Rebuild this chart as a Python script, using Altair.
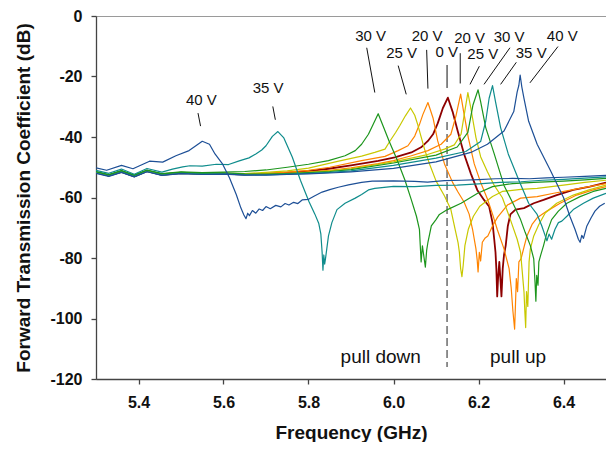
import altair as alt
import pandas as pd

X_TICKS = [5.4, 5.6, 5.8, 6.0, 6.2, 6.4]
Y_TICKS = [0, -20, -40, -60, -80, -100, -120]

C0 = "#8e0000"
C20 = "#ff8400"
C25 = "#c8c800"
C30 = "#1c951c"
C35 = "#0f8c8c"
C40 = "#1d4f96"

# (frequency GHz, S21 dB)
D40_DOWN = [(5.30,-50.2),(5.325,-51.0),(5.36,-49.4),(5.387,-50.5),(5.426,-48.0),(5.457,-48.3),(5.488,-46.2),(5.519,-44.5),(5.535,-42.9),(5.550,-41.4),
            (5.567,-42.4),(5.580,-45.6),(5.598,-49.0),(5.614,-53.5),(5.630,-59.0),(5.641,-63.5),(5.648,-65.8),(5.653,-67.0),(5.657,-65.2),(5.661,-66.0),
            (5.668,-64.3),(5.676,-65.2),(5.684,-63.8),(5.692,-64.3),(5.700,-63.0),(5.710,-63.7),(5.723,-62.6),(5.735,-63.1),(5.745,-62.0),(5.754,-62.5),
            (5.765,-61.6),(5.775,-62.0),(5.785,-60.8),(5.800,-60.6),(5.815,-59.4),(5.832,-58.2),(5.850,-57.4),(5.870,-56.6),(5.894,-55.8),(5.925,-55.0),
            (5.950,-54.6),(6.000,-54.5),(6.050,-54.7),(6.080,-54.9),(6.120,-54.4),(6.160,-54.3),(6.200,-54.1),(6.240,-53.8),(6.280,-53.7),(6.320,-53.8),
            (6.360,-53.5),(6.400,-53.3),(6.450,-53.0),(6.500,-52.7)]

D35_DOWN = [(5.30,-51.0),(5.33,-52.0),(5.36,-50.6),(5.39,-52.3),(5.42,-50.4),(5.455,-51.6),(5.48,-50.6),(5.504,-49.9),(5.521,-49.5),(5.55,-49.6),
            (5.583,-49.0),(5.612,-49.1),(5.637,-47.9),(5.66,-46.9),(5.676,-45.6),(5.69,-44.3),(5.700,-42.9),(5.715,-39.8),(5.728,-38.2),(5.742,-40.3),
            (5.762,-46.7),(5.781,-54.3),(5.801,-61.3),(5.815,-65.5),(5.824,-68.5),(5.829,-72.0),(5.832,-78.0),(5.834,-84.0),(5.836,-79.0),(5.838,-82.0),
            (5.840,-80.2),(5.843,-77.0),(5.847,-72.7),(5.855,-68.3),(5.867,-64.0),(5.886,-61.9),(5.91,-60.2),(5.925,-59.0),(5.941,-57.5),(5.956,-57.0),
            (6.00,-56.3),(6.05,-56.4),(6.10,-56.0),(6.15,-55.9),(6.20,-55.5),(6.25,-55.0),(6.30,-54.8),(6.35,-54.3),(6.40,-54.0),(6.45,-53.6),(6.50,-53.2)]

D30_DOWN = [(5.30,-51.4),(5.33,-52.4),(5.36,-51.1),(5.39,-52.6),(5.42,-50.9),(5.455,-52.1),(5.50,-51.5),(5.55,-51.8),(5.60,-51.6),(5.65,-51.4),
            (5.70,-50.9),(5.75,-50.0),(5.80,-49.0),(5.847,-47.8),(5.886,-46.2),(5.91,-44.5),(5.925,-42.4),(5.941,-39.1),(5.952,-35.9),(5.964,-32.3),
            (5.976,-36.5),(5.99,-41.5),(6.007,-47.0),(6.027,-54.3),(6.042,-60.8),(6.054,-66.2),(6.061,-70.5),(6.063,-75.9),(6.065,-81.3),(6.068,-76.0),
            (6.071,-79.0),(6.075,-83.0),(6.078,-77.5),(6.081,-74.8),(6.089,-69.4),(6.100,-67.3),(6.108,-65.6),(6.127,-64.0),(6.159,-61.9),(6.198,-58.6),
            (6.233,-56.4),(6.28,-55.4),(6.33,-55.0),(6.40,-54.6),(6.45,-54.2),(6.50,-53.7)]

D25_DOWN = [(5.30,-51.6),(5.33,-52.6),(5.36,-51.3),(5.39,-52.8),(5.42,-51.1),(5.455,-52.3),(5.50,-51.7),(5.55,-52.0),(5.60,-51.9),(5.65,-52.1),
            (5.70,-51.7),(5.75,-51.2),(5.80,-50.3),(5.871,-48.0),(5.925,-46.3),(5.956,-45.1),(5.980,-44.0),(5.991,-41.5),(6.005,-38.5),(6.015,-36.2),
            (6.028,-33.0),(6.040,-30.4),(6.050,-32.8),(6.057,-35.9),(6.073,-44.0),(6.085,-49.0),(6.100,-54.5),(6.120,-59.5),(6.135,-64.0),(6.145,-70.5),
            (6.152,-75.0),(6.155,-78.1),(6.158,-83.5),(6.161,-86.2),(6.164,-82.4),(6.168,-75.9),(6.176,-70.5),(6.188,-66.2),(6.203,-62.9),(6.233,-59.7),
            (6.256,-58.0),(6.30,-57.3),(6.338,-57.0),(6.40,-55.9),(6.45,-55.0),(6.50,-54.3)]

D20_DOWN = [(5.30,-51.7),(5.33,-52.7),(5.36,-51.4),(5.39,-52.9),(5.42,-51.2),(5.455,-52.4),(5.50,-51.8),(5.55,-52.1),(5.60,-52.0),(5.65,-52.3),
            (5.70,-52.0),(5.75,-51.6),(5.80,-51.0),(5.85,-50.0),(5.925,-47.8),(5.98,-46.4),(6.011,-44.5),(6.034,-42.9),(6.050,-39.7),(6.061,-35.9),
            (6.069,-32.6),(6.081,-28.6),(6.093,-33.7),(6.104,-41.3),(6.120,-48.9),(6.139,-55.0),(6.151,-58.0),(6.166,-61.5),(6.178,-65.5),(6.186,-70.5),
            (6.194,-77.0),(6.197,-80.8),(6.199,-84.6),(6.202,-78.1),(6.205,-81.0),(6.209,-74.8),(6.215,-73.5),(6.222,-72.7),(6.233,-69.4),(6.245,-66.5),
            (6.268,-62.5),(6.299,-60.2),(6.338,-59.7),(6.377,-58.6),(6.42,-57.5),(6.46,-56.4),(6.50,-55.4)]

V0 = [(5.30,-51.8),(5.33,-52.8),(5.36,-51.5),(5.39,-53.0),(5.42,-51.3),(5.455,-52.5),(5.50,-51.9),(5.55,-52.2),(5.60,-52.1),(5.65,-52.4),
      (5.70,-52.2),(5.75,-51.8),(5.80,-51.3),(5.847,-50.5),(5.90,-49.4),(5.964,-47.9),(6.003,-46.7),(6.042,-45.1),(6.065,-43.4),(6.081,-41.3),
      (6.093,-39.1),(6.104,-35.5),(6.116,-30.5),(6.128,-27.0),(6.139,-31.6),(6.151,-38.0),(6.166,-45.6),(6.182,-52.1),(6.197,-57.5),(6.213,-60.8),
      (6.225,-63.0),(6.233,-68.3),(6.237,-73.8),(6.240,-78.1),(6.242,-83.5),(6.244,-92.7),(6.246,-86.8),(6.249,-81.3),(6.252,-88.0),(6.254,-92.7),
      (6.257,-83.5),(6.260,-79.0),(6.264,-75.9),(6.269,-69.4),(6.275,-65.6),(6.287,-64.0),(6.307,-63.5),(6.330,-61.9),(6.353,-60.8),(6.384,-59.2),
      (6.423,-57.5),(6.462,-56.4),(6.50,-55.1)]

U20_UP = [(5.30,-51.7),(5.33,-52.7),(5.36,-51.4),(5.39,-52.9),(5.42,-51.2),(5.455,-52.4),(5.50,-51.9),(5.55,-52.2),(5.60,-52.1),(5.65,-52.4),
          (5.70,-52.3),(5.75,-52.0),(5.80,-51.5),(5.85,-51.0),(5.90,-50.2),(5.964,-48.8),(6.00,-47.8),(6.042,-46.2),(6.081,-44.5),(6.112,-42.4),
          (6.135,-39.1),(6.147,-33.0),(6.158,-25.8),(6.165,-31.6),(6.176,-40.2),(6.190,-48.9),(6.205,-55.0),(6.221,-60.5),(6.233,-65.5),(6.244,-70.5),
          (6.260,-77.0),(6.272,-83.5),(6.277,-90.0),(6.281,-97.6),(6.285,-103.5),(6.287,-95.4),(6.289,-86.8),(6.292,-91.1),(6.295,-81.3),(6.300,-80.3),
          (6.308,-75.9),(6.314,-72.7),(6.326,-68.9),(6.338,-66.7),(6.361,-64.5),(6.392,-61.9),(6.431,-59.2),(6.47,-57.5),(6.50,-56.4)]

U25_UP = [(5.30,-51.6),(5.33,-52.6),(5.36,-51.3),(5.39,-52.8),(5.42,-51.1),(5.455,-52.3),(5.50,-51.8),(5.55,-52.1),(5.60,-52.0),(5.65,-52.3),
          (5.70,-52.3),(5.75,-52.1),(5.80,-51.7),(5.85,-51.2),(5.90,-50.5),(6.00,-48.2),(6.08,-45.8),(6.12,-44.0),(6.143,-42.6),(6.159,-39.1),
          (6.166,-33.0),(6.175,-25.3),(6.182,-30.5),(6.194,-40.2),(6.205,-46.5),(6.221,-51.5),(6.237,-56.0),(6.256,-60.0),(6.275,-67.3),(6.291,-73.8),
          (6.299,-78.1),(6.303,-84.6),(6.307,-91.1),(6.309,-97.6),(6.311,-103.0),(6.313,-91.1),(6.316,-96.0),(6.319,-81.3),(6.322,-77.0),(6.330,-72.7),
          (6.342,-68.9),(6.357,-65.1),(6.384,-61.9),(6.423,-59.2),(6.46,-57.5),(6.50,-55.9)]

U30_UP = [(5.30,-51.5),(5.33,-52.5),(5.36,-51.2),(5.39,-52.7),(5.42,-51.0),(5.455,-52.2),(5.50,-51.7),(5.55,-52.0),(5.60,-51.9),(5.65,-52.2),
          (5.70,-52.3),(5.75,-52.1),(5.80,-51.8),(5.85,-51.4),(5.90,-50.8),(6.00,-48.6),(6.10,-46.0),(6.15,-43.3),(6.175,-38.5),(6.187,-29.4),
          (6.199,-24.4),(6.205,-28.3),(6.217,-36.9),(6.237,-45.6),(6.260,-56.0),(6.283,-62.5),(6.299,-67.3),(6.310,-71.6),(6.322,-75.9),(6.330,-80.3),
          (6.333,-88.0),(6.335,-94.3),(6.337,-85.7),(6.340,-89.0),(6.342,-81.3),(6.346,-79.2),(6.353,-75.9),(6.361,-71.6),(6.372,-67.3),(6.388,-64.5),
          (6.408,-61.9),(6.439,-59.7),(6.47,-58.0),(6.50,-57.0)]

U35_UP = [(5.30,-51.9),(5.33,-52.9),(5.36,-51.6),(5.39,-53.1),(5.42,-51.4),(5.455,-52.6),(5.50,-52.0),(5.55,-52.3),(5.60,-52.2),(5.65,-52.5),
          (5.70,-52.5),(5.75,-52.3),(5.80,-52.0),(5.85,-51.7),(5.90,-51.2),(6.00,-49.4),(6.10,-47.0),(6.17,-44.8),(6.205,-41.5),(6.217,-34.8),
          (6.225,-27.2),(6.233,-23.0),(6.240,-28.3),(6.252,-36.9),(6.270,-45.6),(6.295,-54.3),(6.318,-61.9),(6.338,-65.6),(6.349,-69.4),(6.357,-72.7),
          (6.361,-74.3),(6.366,-72.1),(6.372,-73.8),(6.380,-70.5),(6.388,-68.3),(6.396,-67.8),(6.408,-66.2),(6.423,-64.0),(6.447,-61.9),(6.47,-60.2),
          (6.50,-58.6)]

U40_UP = [(5.30,-52.0),(5.33,-53.0),(5.36,-51.7),(5.39,-53.2),(5.42,-51.5),(5.455,-52.7),(5.50,-52.1),(5.55,-52.4),(5.60,-52.3),(5.65,-52.6),
          (5.70,-52.6),(5.75,-52.4),(5.80,-52.2),(5.85,-51.9),(5.90,-51.5),(6.00,-50.4),(6.10,-48.2),(6.182,-45.1),(6.221,-42.4),(6.26,-38.0),
          (6.283,-31.6),(6.291,-25.1),(6.295,-22.9),(6.298,-19.5),(6.302,-23.5),(6.307,-27.2),(6.318,-34.8),(6.338,-42.4),(6.369,-51.0),(6.40,-60.0),
          (6.415,-66.2),(6.427,-70.5),(6.435,-73.8),(6.439,-74.8),(6.443,-72.5),(6.447,-73.5),(6.455,-69.4),(6.465,-66.7),(6.474,-64.5),(6.485,-62.9),
          (6.497,-61.9)]

# voltage labels: text, freq, dB (text baseline)
LABEL_TEXT = ["40 V", "35 V", "30 V", "25 V", "20 V", "0 V", "20 V", "25 V", "30 V", "35 V", "40 V"]
LABEL_F = [5.548, 5.705, 5.946, 6.019, 6.079, 6.125, 6.179, 6.210, 6.272, 6.324, 6.397]
LABEL_DB = [-29.4, -25.6, -8.2, -14.0, -8.2, -13.7, -8.8, -14.2, -8.5, -14.0, -8.2]

# leader lines: start freq, start dB, end freq, end dB
LEAD_F1 = [5.540, 5.716, 5.937, 6.011, 6.078, 6.126, 6.157, 6.202, 6.274, 6.289, 6.387]
LEAD_DB1 = [-32.1, -29.9, -10.5, -16.4, -11.2, -16.2, -12.3, -16.6, -10.5, -15.3, -10.1]
LEAD_F2 = [5.546, 5.722, 5.956, 6.030, 6.081, 6.126, 6.157, 6.180, 6.213, 6.252, 6.321]
LEAD_DB2 = [-36.4, -34.3, -25.3, -25.9, -24.0, -23.8, -22.3, -22.6, -22.6, -22.6, -22.1]

DIVIDER_F = [6.126]
DIVIDER_DB1 = [-35.0]
DIVIDER_DB2 = [-116.0]

REGION_TEXT = ["pull down", "pull up"]
REGION_F = [5.970, 6.293]
REGION_DB = [-114.7, -114.7]

# drawing order: first listed is drawn first (underneath)
curves = [
    ("v0", V0, C0, 1.8),
    ("d20", D20_DOWN, C20, 1.2),
    ("d25", D25_DOWN, C25, 1.2),
    ("u20", U20_UP, C20, 1.2),
    ("u25", U25_UP, C25, 1.2),
    ("d30", D30_DOWN, C30, 1.2),
    ("u30", U30_UP, C30, 1.2),
    ("u35", U35_UP, C35, 1.2),
    ("u40", U40_UP, C40, 1.2),
    ("d35", D35_DOWN, C35, 1.2),
    ("d40", D40_DOWN, C40, 1.2),
]

rows = []
for k, (name, pts, color, w) in enumerate(curves):
    for i, (f, s) in enumerate(pts):
        rows.append({"curve": name, "f": f, "db": s, "i": i, "w": w, "k": k})
df = pd.DataFrame(rows)

FONT = "Liberation Sans"
x_scale = alt.Scale(domain=[5.3, 6.5], nice=False, zero=False)
y_scale = alt.Scale(domain=[-120, 0], nice=False, zero=False)

x_axis = alt.Axis(values=X_TICKS, format=".1f", title="Frequency (GHz)", labelPadding=10, titlePadding=13)
y_axis = alt.Axis(values=Y_TICKS, labelExpr="'' + datum.value", title="Forward Transmission Coefficient (dB)",
                  labelPadding=9, titlePadding=16)

lines = alt.Chart(df).mark_line(clip=True, strokeJoin="round").encode(
    x=alt.X("f:Q", scale=x_scale, axis=x_axis),
    y=alt.Y("db:Q", scale=y_scale, axis=y_axis),
    color=alt.Color("curve:N", sort=[c[0] for c in curves],
                    scale=alt.Scale(domain=[c[0] for c in curves], range=[c[2] for c in curves]), legend=None),
    strokeWidth=alt.StrokeWidth("w:Q", scale=None),
    order="i:Q",
)

lab_df = pd.DataFrame({"t": LABEL_TEXT, "f": LABEL_F, "db": LABEL_DB})
labels = alt.Chart(lab_df).mark_text(font=FONT, fontSize=15, color="#111", align="center", baseline="alphabetic").encode(
    x=alt.X("f:Q", scale=x_scale, axis=x_axis), y=alt.Y("db:Q", scale=y_scale, axis=y_axis), text="t:N")

lead_df = pd.DataFrame({"f": LEAD_F1, "db": LEAD_DB1, "f2": LEAD_F2, "db2": LEAD_DB2})
leads = alt.Chart(lead_df).mark_rule(color="#111", strokeWidth=1).encode(
    x=alt.X("f:Q", scale=x_scale, axis=x_axis), x2="f2:Q",
    y=alt.Y("db:Q", scale=y_scale, axis=y_axis), y2="db2:Q")

div_df = pd.DataFrame({"f": DIVIDER_F, "db": DIVIDER_DB1, "db2": DIVIDER_DB2})
divider = alt.Chart(div_df).mark_rule(color="#555", strokeWidth=1.3, strokeDash=[8, 4]).encode(
    x=alt.X("f:Q", scale=x_scale, axis=x_axis),
    y=alt.Y("db:Q", scale=y_scale, axis=y_axis), y2="db2:Q")

reg_df = pd.DataFrame({"t": REGION_TEXT, "f": REGION_F, "db": REGION_DB})
regions = alt.Chart(reg_df).mark_text(font=FONT, fontSize=19, color="#111", align="center", baseline="alphabetic").encode(
    x=alt.X("f:Q", scale=x_scale, axis=x_axis), y=alt.Y("db:Q", scale=y_scale, axis=y_axis), text="t:N")

chart = alt.layer(divider, lines, leads, labels, regions).properties(
    width=510, height=363,
    autosize=alt.AutoSizeParams(type="none"),
    padding={"left": 88, "top": 8, "right": 0, "bottom": 63},
    background="white",
).configure_view(
    stroke="#9a9a9a", strokeWidth=1
).configure_axis(
    grid=False,
    domainColor="#444", domainWidth=1.3,
    tickColor="#444", tickSize=5, tickWidth=1.3,
    labelFont=FONT, labelFontSize=16, labelFontWeight="bold", labelColor="#111",
    titleFont=FONT, titleFontSize=19, titleFontWeight="bold", titleColor="#111",
)

chart.save("out.html", embed_options={"renderer": "svg", "actions": False})
